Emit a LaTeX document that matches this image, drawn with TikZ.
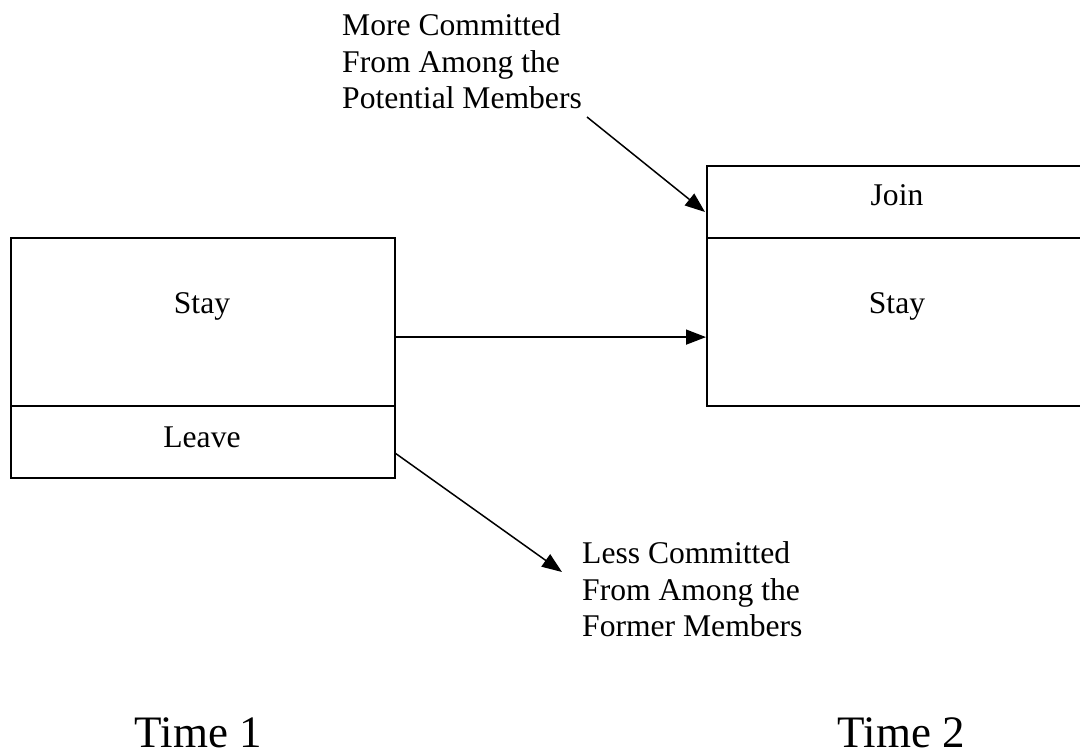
\documentclass[tikz,border=0pt]{standalone}
\usepackage{fontspec}
\setmainfont{Liberation Serif}
\usetikzlibrary{arrows.meta}
\begin{document}
\begin{tikzpicture}[x=1pt,y=-1pt,
  box/.style={draw=black,line width=2.2pt,rectangle,inner sep=0pt,anchor=north west},
  lbl/.style={font=\fontsize{31.6}{36.7}\selectfont,inner sep=0pt},
  note/.style={font=\fontsize{31.6}{36.7}\selectfont,inner sep=0pt,align=left,anchor=north west},
  timelbl/.style={font=\fontsize{45}{54}\selectfont,inner sep=0pt,anchor=base},
  conn/.style={line width=1.5pt,-{Triangle[length=20pt,width=15pt]}}]
\useasboundingbox (0,0) rectangle (1080,754);
\clip (0,0) rectangle (1080,754);
% left (Time 1) boxes
\node[box,minimum width=384pt,minimum height=168pt] (stayA) at (10,237) {};
\node[box,minimum width=384pt,minimum height=72pt] (leaveA) at (10,405) {};
% right (Time 2) boxes
\node[box,minimum width=382pt,minimum height=72pt] (joinB) at (706,165) {};
\node[box,minimum width=382pt,minimum height=168pt] (stayB) at (706,237) {};
% box texts
\node[lbl,anchor=base] (tStayA) at (202,314) {Stay};
\node[lbl,anchor=base] (tLeaveA) at (202,447) {Leave};
\node[lbl,anchor=base] (tJoinB) at (897,206) {Join};
\node[lbl,anchor=base] (tStayB) at (897,314) {Stay};
% notes
\node[note] (more) at (342,13.4) {More Committed\\From Among the\\Potential Members};
\node[note] (less) at (582,541.4) {Less Committed\\From Among the\\Former Members};
% time labels
\node[timelbl] (time1) at (198.5,747) {Time 1};
\node[timelbl] (time2) at (901.5,747) {Time 2};
% connectors
\coordinate (moreEnd) at (587,117);
\coordinate (joinTip) at (705,212);
\coordinate (leaveStart) at (395,453);
\coordinate (lessTip) at (562,572);
\draw[conn] ([yshift=-15pt]stayA.east) -- ([yshift=-15pt]stayB.west);
\draw[conn] (moreEnd) -- (joinTip);
\draw[conn] (leaveStart) -- (lessTip);
\end{tikzpicture}
\end{document}
